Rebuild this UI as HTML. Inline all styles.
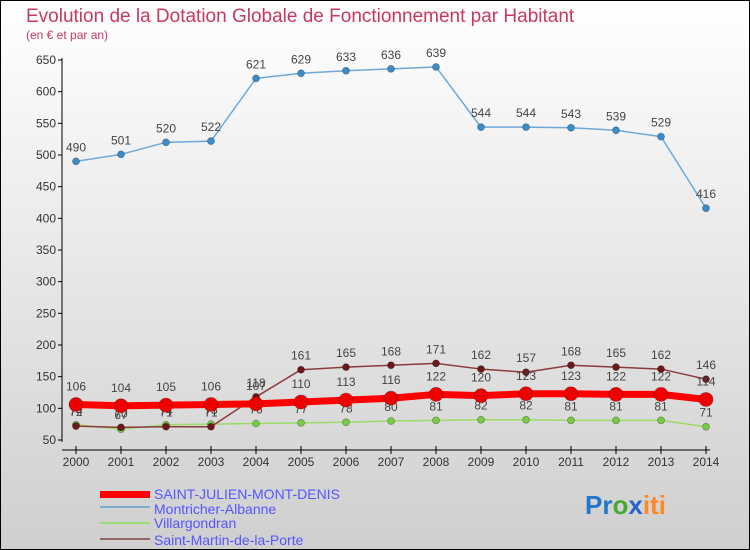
<!DOCTYPE html>
<html><head><meta charset="utf-8"><style>
html,body{margin:0;padding:0}
body{width:750px;height:550px;overflow:hidden;font-family:"Liberation Sans",sans-serif}
svg{display:block}
</style></head><body>
<svg id="chart" width="750" height="550" xmlns="http://www.w3.org/2000/svg">
<defs><linearGradient id="bg" x1="0" y1="0" x2="0" y2="1"><stop offset="0" stop-color="#ffffff"/><stop offset="1" stop-color="#cfcfcf"/></linearGradient></defs>
<rect x="0.5" y="0.5" width="749" height="549" fill="url(#bg)" stroke="#000"/>
<text x="26" y="22" font-size="19" fill="#c8385f">Evolution de la Dotation Globale de Fonctionnement par Habitant</text>
<text x="26" y="39" font-size="12" fill="#c8385f">(en € et par an)</text>
<g id="axes"></g>
<g id="series"></g>
<g id="legend">
<rect x="100" y="491" width="50" height="7" fill="#ff0000"/>
<text x="154" y="499" font-size="14" fill="#5555ff">SAINT-JULIEN-MONT-DENIS</text>
<line x1="100" y1="507" x2="150" y2="507" stroke="#7aaed0" stroke-width="2"/>
<text x="154" y="514" font-size="14" fill="#5555ff">Montricher-Albanne</text>
<line x1="100" y1="523" x2="150" y2="523" stroke="#99dd77" stroke-width="2"/>
<text x="154" y="528" font-size="14" fill="#5555ff">Villargondran</text>
<line x1="100" y1="539" x2="150" y2="539" stroke="#996666" stroke-width="2"/>
<text x="154" y="545" font-size="14" fill="#5555ff">Saint-Martin-de-la-Porte</text>
</g>
<g font-size="26" font-weight="bold">
<text x="585" y="514"><tspan fill="#2277cc">Pr</tspan><tspan fill="#44aa33">o</tspan><tspan fill="#2266cc">x</tspan><tspan fill="#ff8822">iti</tspan></text>
</g>
</svg>
<script>
const years=[2000,2001,2002,2003,2004,2005,2006,2007,2008,2009,2010,2011,2012,2013,2014];
const yTicks=[50,100,150,200,250,300,350,400,450,500,550,600,650];
const stJulien=[106,104,105,106,107,110,113,116,122,120,123,123,122,122,114];
const montricher=[490,501,520,522,621,629,633,636,639,544,544,543,539,529,416];
const villargondran=[74,67,74,75,76,77,78,80,81,82,82,81,81,81,71];
const stMartin=[72,70,71,71,118,161,165,168,171,162,157,168,165,162,146];
const NS="http://www.w3.org/2000/svg";
const xs=y=>76+(y-2000)*45;
const ys=v=>440-(v-50)*380/600;
function mk(tag,attrs,parent){const e=document.createElementNS(NS,tag);for(const k in attrs)e.setAttribute(k,attrs[k]);parent.appendChild(e);return e;}
const ax=document.getElementById('axes');
let l=mk('line',{x1:62,y1:58,x2:62,y2:442,stroke:'#000'},ax);


l=mk('line',{x1:62,y1:450,x2:710,y2:450,stroke:'#000'},ax);


yTicks.forEach(v=>{
 const t=mk('line',{x1:58,y1:ys(v),x2:62,y2:ys(v),stroke:'#000'},ax);
 
 
 const tx=mk('text',{x:56,y:ys(v)+4,'font-size':12,'text-anchor':'end',fill:'#333'},ax);
 tx.textContent=v;
 
 
});
years.forEach(y=>{
 const t=mk('line',{x1:xs(y),y1:446,x2:xs(y),y2:454,stroke:'#000'},ax);
 
 
 const tx=mk('text',{x:xs(y),y:466,'font-size':12,'text-anchor':'middle',fill:'#333'},ax);
 tx.textContent=y;
 
 
});
const sg=document.getElementById('series');
function series(vals,color,dot,w,r,name,labelDy){
 const g=mk('g',{},sg);
 
 
 const p=mk('polyline',{points:vals.map((v,i)=>xs(years[i])+','+ys(v)).join(' '),fill:'none',stroke:color,'stroke-width':w,'stroke-linejoin':'round'},g);
 
 
 vals.forEach((v,i)=>{
  const c=mk('circle',{cx:xs(years[i]),cy:ys(v),r:r,fill:dot,stroke:'rgba(0,0,0,0.3)','stroke-width':0.8},g);
  
  
  const t=mk('text',{x:xs(years[i]),y:ys(v)+labelDy,'font-size':12,'text-anchor':'middle',fill:'#444'},g);
  t.textContent=v;
  
  
 });
}
series(montricher,'#6fa8d8','#3d8cc8',1.5,3.5,'montricher',-10);
series(villargondran,'#99dd66','#77cc44',1.5,3.5,'villargondran',-10);
series(stMartin,'#8b3b3b','#6b1818',1.5,3.5,'saint-martin',-10);
series(stJulien,'#ff0000','#ee0000',7,7,'saint-julien',-14);
</script>
</body></html>
